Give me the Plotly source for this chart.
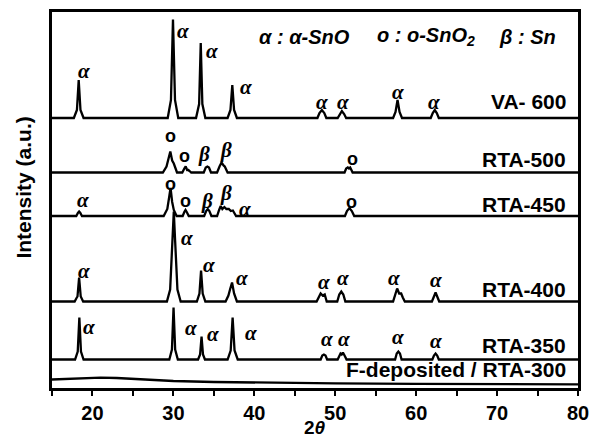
import plotly.graph_objects as go

# ---------------- data (2θ, intensity a.u. above each pattern's baseline) ----------------
va600_x = [15, 17.7, 18.08, 18.3, 18.52, 18.9,
           29.3, 29.7, 29.95, 30.2, 30.6,
           32.8, 33.18, 33.38, 33.58, 33.95,
           36.7, 37.05, 37.28, 37.5, 37.85,
           47.8, 48.05, 48.35, 48.65, 48.9,
           50.3, 50.55, 50.82, 51.1, 51.35,
           57.15, 57.45, 57.7, 57.95, 58.25,
           61.8, 62.05, 62.3, 62.55, 62.8,
           80]
va600_y = [0, 0, 8, 38, 8, 0,
           0, 18, 98.5, 18, 0,
           0, 14, 75, 14, 0,
           0, 8, 33, 8, 0,
           0, 5, 8, 5, 0,
           0, 4, 7, 4, 0,
           0, 6, 18, 6, 0,
           0, 5, 8, 5, 0,
           0]

rta500_x = [15, 28.7, 29.15, 29.45, 29.62, 29.85, 30.05, 30.45,
            31.1, 31.35, 31.52, 31.7, 31.85, 32.0, 32.2,
            33.75, 34.0, 34.2, 34.4, 34.65,
            35.4, 35.7, 35.95, 36.2, 36.35, 36.7,
            51.15, 51.35, 51.55, 51.7, 51.85, 52.15,
            80]
rta500_y = [0, 0, 6, 16, 21, 12, 9, 0,
            0, 4, 6, 2.5, 2.5, 1.5, 0,
            0, 5, 6, 5, 0,
            0, 6, 10, 7, 6, 0,
            0, 4, 5, 4, 5, 0,
            0]

rta450_x = [15, 18.0, 18.2, 18.35, 18.5, 18.7,
            28.8, 29.25, 29.5, 29.65, 29.85, 30.05, 30.4,
            31.15, 31.35, 31.5, 31.65, 31.9,
            33.8, 34.05, 34.25, 34.45, 34.7,
            35.4, 35.65, 35.85, 36.05, 36.3, 36.55, 36.85, 37.1, 37.35, 37.75,
            51.2, 51.45, 51.75, 52.05, 52.35,
            80]
rta450_y = [0, 0, 3, 4.5, 3, 0,
            0, 7, 20, 28, 14, 6, 0,
            0, 4, 6, 4, 0,
            0, 5, 7, 5, 0,
            0, 6, 10, 7, 9, 7, 7, 5, 5.5, 0,
            0, 5, 8, 5, 0,
            0]

rta400_x = [15, 17.8, 18.0, 18.15, 18.35, 18.55, 18.85,
            29.2, 29.6, 29.88, 30.05, 30.22, 30.5, 30.9,
            32.9, 33.22, 33.42, 33.62, 33.95,
            36.45, 36.8, 37.0, 37.25, 37.5, 37.85,
            47.7, 47.95, 48.2, 48.45, 48.7, 48.95,
            50.25, 50.5, 50.75, 51.0, 51.25,
            57.15, 57.4, 57.65, 57.9, 58.15, 58.35, 58.6,
            61.95, 62.2, 62.4, 62.6, 62.85,
            80]
rta400_y = [0, 0, 3, 5, 24, 5, 0,
            0, 12, 60, 90, 60, 12, 0,
            0, 8, 31, 8, 0,
            0, 6, 12, 19, 8, 0,
            0, 5, 8, 6, 7, 0,
            0, 7, 10, 7, 0,
            0, 6, 13, 8, 8, 4, 0,
            0, 5, 9, 5, 0,
            0]

rta350_x = [15, 17.85, 18.18, 18.38, 18.58, 18.9,
            29.5, 29.82, 30.02, 30.22, 30.55,
            33.05, 33.3, 33.48, 33.66, 33.9,
            36.7, 37.08, 37.32, 37.56, 37.95,
            48.2, 48.4, 48.6, 48.8, 49.0,
            50.3, 50.5, 50.65, 50.8, 50.95, 51.15, 51.4,
            57.4, 57.6, 57.8, 58.0, 58.2,
            62.0, 62.2, 62.4, 62.6, 62.8,
            80]
rta350_y = [0, 0, 8, 42, 8, 0,
            0, 10, 52, 10, 0,
            0, 5, 23, 5, 0,
            0, 9, 42, 9, 0,
            0, 4, 5, 4, 0,
            0, 4, 6, 5, 7, 4, 0,
            0, 6, 8, 6, 0,
            0, 4, 6, 4, 0,
            0]

fdep_x = [15, 17, 19, 21, 23, 25, 27, 30, 35, 40, 45, 50, 60, 70, 80]
fdep_y = [8.5, 9.3, 10.0, 10.3, 10.0, 9.2, 8.2, 7.0, 6.0, 5.3, 4.9, 4.6, 4.2, 3.9, 3.7]

sample_names = ["VA- 600", "RTA-500", "RTA-450", "RTA-400", "RTA-350", "F-deposited / RTA-300"]
x_ticks = [20, 30, 40, 50, 60, 70, 80]
x_tick_labels = ["20", "30", "40", "50", "60", "70", "80"]
legend_items = ["<i>α</i> : <i>α</i>-SnO", "o : o-SnO<sub>2</sub>", "<i>β</i> : Sn"]

# peak labels per sample: (2θ, height above baseline, phase)
va600_marks = [(18.9, 47, "a"), (31.2, 87.5, "a"), (34.75, 67, "a"), (38.95, 31.5, "a"),
               (48.4, 16, "a"), (51.0, 16, "a"), (57.7, 26.5, "a"), (62.2, 16, "a")]
rta500_marks = [(29.6, 37, "o"), (31.4, 17, "o"), (33.8, 19, "b"), (36.5, 23, "b"), (52.1, 14, "o")]
rta450_marks = [(18.8, 16.5, "a"), (29.6, 32.5, "o"), (31.5, 15.5, "o"), (34.2, 15.5, "b"),
                (36.5, 23.5, "b"), (38.8, 7.5, "a"), (52.0, 14, "o")]
rta400_marks = [(18.95, 31, "a"), (31.7, 64, "a"), (34.45, 37, "a"), (38.5, 24, "a"),
                (48.6, 20, "a"), (51.0, 24, "a"), (57.3, 24, "a"), (62.5, 22, "a")]
rta350_marks = [(19.6, 33, "a"), (32.2, 32, "a"), (34.9, 25.5, "a"), (39.6, 26.5, "a"),
                (49.0, 21, "a"), (51.1, 21, "a"), (57.7, 22.5, "a"), (62.5, 19, "a")]

# ---------------- layout constants ----------------
offsets = [270, 215.5, 172, 86.5, 28.5, 0]
name_y = [287, 229, 184, 98.5, 43, 18.5]
legend_x = [0.3897, 0.614, 0.846]
series = [(va600_x, va600_y), (rta500_x, rta500_y), (rta450_x, rta450_y),
          (rta400_x, rta400_y), (rta350_x, rta350_y), (fdep_x, fdep_y)]
marks = [va600_marks, rta500_marks, rta450_marks, rta400_marks, rta350_marks, []]

fig = go.Figure()
for (xs, ys), off in zip(series, offsets):
    fig.add_trace(go.Scatter(x=xs, y=[v + off for v in ys], mode="lines",
                             line=dict(color="black", width=2.3),
                             hoverinfo="skip", showlegend=False))

ann = []
glyph = {"a": ("<b><i>α</i></b>", "Liberation Serif", 21),
         "b": ("<b><i>β</i></b>", "Liberation Serif", 21),
         "o": ("<b>o</b>", "Liberation Sans", 18)}
for mlist, off in zip(marks, offsets):
    for (tx, th, ph) in mlist:
        t, fam, sz = glyph[ph]
        ann.append(dict(x=tx, y=off + th, xref="x", yref="y", text=t, showarrow=False,
                        font=dict(family=fam, size=sz, color="black"),
                        xanchor="center", yanchor="middle"))

for nm, ny in zip(sample_names, name_y):
    ann.append(dict(x=0.981, y=ny, xref="paper", yref="y", text="<b>%s</b>" % nm,
                    showarrow=False, xanchor="right", yanchor="middle",
                    font=dict(family="Liberation Sans", size=21, color="black")))

for lt, lx in zip(legend_items, legend_x):
    ann.append(dict(x=lx, y=351.5, xref="paper", yref="y", showarrow=False,
                    xanchor="left", yanchor="middle", text="<b><i>%s</i></b>" % lt,
                    font=dict(family="Liberation Sans", size=20, color="black")))

ann.append(dict(x=-0.0532, y=0.533, xref="paper", yref="paper", textangle=-90,
                text="<b>Intensity (a.u.)</b>", showarrow=False,
                xanchor="center", yanchor="middle",
                font=dict(family="Liberation Sans", size=21, color="black")))
ann.append(dict(x=0.5, y=-0.105, xref="paper", yref="paper",
                text="<b>2<i>θ</i></b>", showarrow=False,
                xanchor="center", yanchor="middle",
                font=dict(family="Liberation Sans", size=19, color="black")))

fig.update_layout(
    width=590, height=438,
    margin=dict(l=52, r=12, t=12, b=50),
    paper_bgcolor="white", plot_bgcolor="white",
    annotations=ann,
    xaxis=dict(range=[15, 80], showline=True, linewidth=2.5, linecolor="black", mirror=True,
               automargin=False,
               ticks="outside", ticklen=5, tickwidth=2, tickcolor="black",
               tickmode="array", tickvals=x_ticks, ticktext=x_tick_labels,
               minor=dict(ticks="outside", ticklen=5, tickwidth=2, tickcolor="black",
                          tick0=15, dtick=5),
               tickfont=dict(family="Liberation Sans", size=20, color="black", weight="bold"),
               showgrid=False, zeroline=False),
    yaxis=dict(range=[0, 376], showline=True, linewidth=2.5, linecolor="black", mirror=True,
               automargin=False,
               ticks="", showticklabels=False, showgrid=False, zeroline=False),
)

fig.write_html("out.html")
